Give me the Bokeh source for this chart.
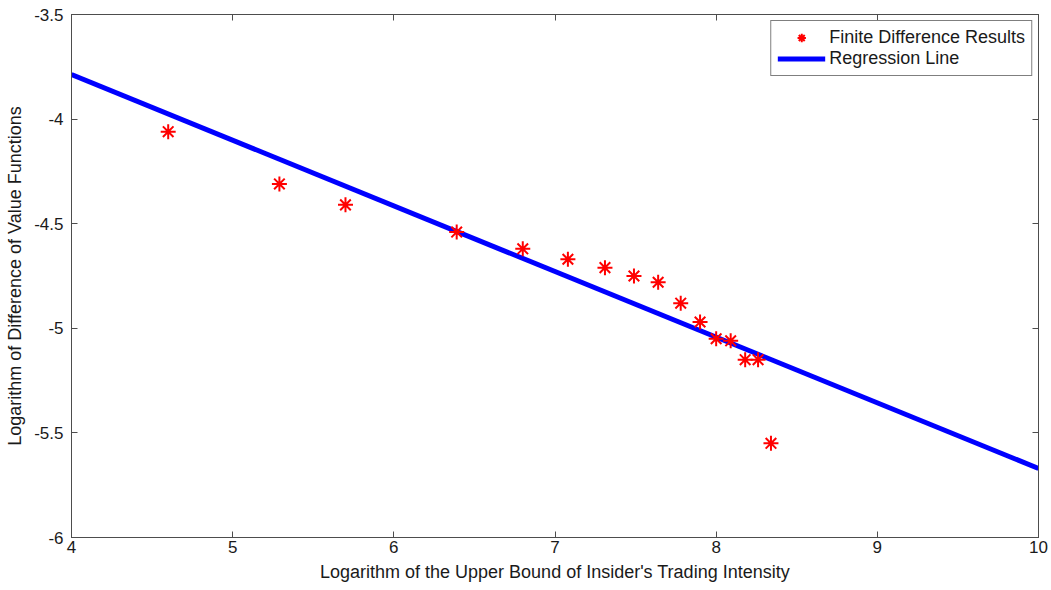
from bokeh.plotting import figure
from bokeh.models import FixedTicker, LinearAxis, Range1d, Legend, LegendItem
from bokeh.embed import file_html
from bokeh.resources import INLINE

# Data
log_bound = [4.60, 5.29, 5.70, 6.39, 6.80, 7.08, 7.31, 7.49, 7.64, 7.78, 7.90, 8.00, 8.09, 8.18, 8.26, 8.34]
log_diff = [-4.06, -4.31, -4.41, -4.54, -4.62, -4.67, -4.71, -4.75, -4.78, -4.88, -4.97, -5.05, -5.06, -5.15, -5.15, -5.55]
reg_slope = -0.3138
reg_intercept = -2.532
x_ticks = [4, 5, 6, 7, 8, 9, 10]
y_ticks = [-3.5, -4, -4.5, -5, -5.5, -6]
x_tick_labels = ["4", "5", "6", "7", "8", "9", "10"]
y_tick_labels = ["-3.5", "-4", "-4.5", "-5", "-5.5", "-6"]

FONT = "Liberation Sans"
AX = "#4d4d4d"
TXT = "#1a1a1a"

p = figure(width=1051, height=590, output_backend="svg", toolbar_location=None,
           x_range=Range1d(4, 10), y_range=Range1d(-6, -3.5),
           min_border_left=71, min_border_right=13, min_border_top=14, min_border_bottom=53)
p.xgrid.visible = False
p.ygrid.visible = False
p.outline_line_color = AX
p.outline_line_width = 1
p.background_fill_color = "white"
p.border_fill_color = "white"

reg_x = [x_ticks[0], x_ticks[-1]]
reg_y = [reg_intercept + reg_slope * v for v in reg_x]
line = p.line(reg_x, reg_y, line_color="#0000ff", line_width=5)
pts = p.scatter(log_bound, log_diff, marker="asterisk", size=15, line_color="#ff0000", line_width=2)

def style(ax):
    ax.major_tick_in = 6
    ax.major_tick_out = 0
    ax.minor_tick_in = 0
    ax.minor_tick_out = 0
    ax.axis_line_color = AX
    ax.major_tick_line_color = AX
    ax.major_label_text_font = FONT
    ax.major_label_text_font_size = "17px"
    ax.major_label_text_color = TXT
    ax.axis_label_text_font = FONT
    ax.axis_label_text_font_size = "18px"
    ax.axis_label_text_font_style = "normal"
    ax.axis_label_text_color = TXT

xa = p.xaxis[0]
xa.ticker = FixedTicker(ticks=x_ticks)
xa.major_label_overrides = {t: s for t, s in zip(x_ticks, x_tick_labels)}
xa.axis_label = "Logarithm of the Upper Bound of Insider's Trading Intensity"
style(xa)
xa.major_label_standoff = 3
xa.axis_label_standoff = 6

ya = p.yaxis[0]
ya.ticker = FixedTicker(ticks=y_ticks)
ya.major_label_overrides = {t: s for t, s in zip(y_ticks, y_tick_labels)}
ya.axis_label = "Logarithm of Difference of Value Functions"
style(ya)
ya.major_label_standoff = 8
ya.axis_label_standoff = 6

top = LinearAxis(ticker=FixedTicker(ticks=x_ticks))
style(top)
top.major_label_overrides = {t: "" for t in x_ticks}
top.major_label_standoff = 0
p.add_layout(top, "above")
right = LinearAxis(ticker=FixedTicker(ticks=y_ticks))
style(right)
right.major_label_overrides = {t: "" for t in y_ticks}
right.major_label_standoff = 0
p.add_layout(right, "right")

legend = Legend(items=[LegendItem(label="Finite Difference Results", renderers=[pts]),
                       LegendItem(label="Regression Line", renderers=[line])],
                location="top_right")
legend.label_text_font = FONT
legend.label_text_font_size = "18px"
legend.label_text_color = TXT
legend.border_line_color = "#000000"
legend.border_line_width = 1
legend.glyph_width = 48
legend.glyph_height = 21
legend.label_height = 21
legend.label_standoff = 4
legend.spacing = 0
legend.padding = 6
legend.margin = 6
p.add_layout(legend)

open("out.html", "w").write(file_html(p, INLINE))
